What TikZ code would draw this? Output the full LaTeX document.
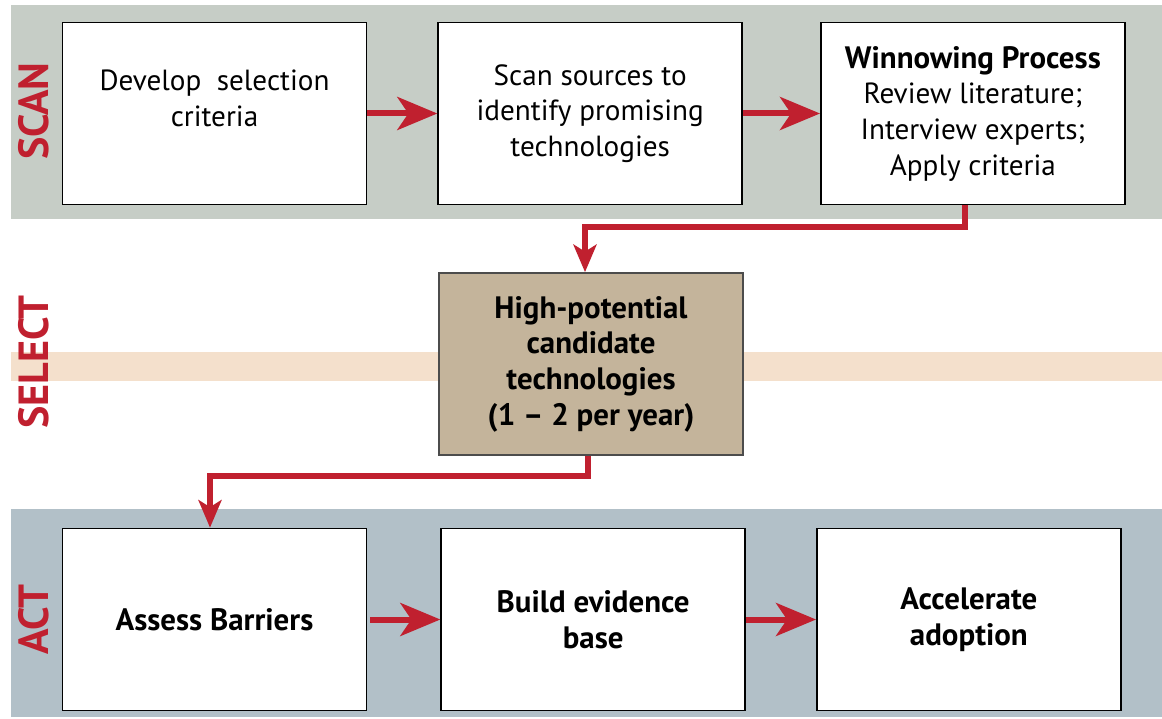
\documentclass[tikz,border=0pt]{standalone}
\usepackage{fontspec}
\setmainfont{PT Sans}
\usepackage{tikz}
\usetikzlibrary{positioning,arrows.meta}
\definecolor{scanbg}{HTML}{C6CDC6}
\definecolor{actbg}{HTML}{B2C0C8}
\definecolor{selbg}{HTML}{F4E0CC}
\definecolor{tan}{HTML}{C4B49B}
\definecolor{flowred}{HTML}{C0202F}

\begin{document}
\begin{tikzpicture}[
    x=0.02cm, y=-0.02cm,
    box/.style={rectangle, draw=black, line width=1pt, fill=white,
        minimum width=6.08cm, minimum height=3.64cm, align=center,
        font=\fontsize{16.6}{20.3}\selectfont},
    boldbox/.style={box, font=\fontsize{17.6}{20.3}\selectfont\bfseries},
    stagelbl/.style={rotate=90, text=flowred, font=\fontsize{24}{28}\selectfont\bfseries},
    flow/.style={draw=flowred, line width=0.12cm,
        -{Stealth[length=0.8cm, width=0.66cm, inset=0.22cm]}},
    elbow/.style={draw=flowred, line width=0.12cm,
        -{Stealth[length=0.55cm, width=0.46cm, inset=0.14cm]}}
]
    \useasboundingbox (0,0) rectangle (1162,719);
    \fill[white] (0,0) rectangle (1162,719);

    % stage bands
    \fill[scanbg] (11,5) rectangle (1162,219);
    \fill[selbg] (11,352) rectangle (1162,381);
    \fill[actbg] (11,509) rectangle (1162,717);

    \node[stagelbl] (scanlbl) at (34,111) {SCAN};
    \node[stagelbl] (sellbl) at (34,362) {SELECT};
    \node[stagelbl] (actlbl) at (34,620) {ACT};

    % scan row
    \node[box] (dev) at (214.5,113.5) {Develop~ selection\\criteria\\[-9pt]\strut};
    \node[box, right=1.4cm of dev] (scn) {Scan sources to\\identify promising\\technologies};
    \node[box, right=1.54cm of scn] (win) {{\bfseries\fontsize{17.6}{20.3}\selectfont Winnowing Process}\\Review literature;\\Interview experts;\\Apply criteria};

    % select
    \node[boldbox, fill=tan, draw=black!70] (hp) at (591,364) {High-potential\\candidate\\technologies\\(1 -- 2 per year)};

    % act row
    \node[boldbox] (ab) at (214.5,619.5) {Assess Barriers};
    \node[boldbox, right=1.46cm of ab] (be) {Build evidence\\base};
    \node[boldbox, right=1.4cm of be] (acc) {Accelerate\\adoption};

    \draw[flow] (dev) -- (scn);
    \draw[flow] (scn) -- (win);
    \draw[elbow] ([xshift=-0.16cm]win.south) -- ++(0,22) -| ([xshift=-0.12cm]hp.north);
    \draw[elbow] ([xshift=-0.06cm]hp.south) -- ++(0,20) -| ([xshift=-0.09cm]ab.north);
    \draw[flow] ([xshift=0.06cm]ab.east) -- (be);
    \draw[flow] (be) -- (acc);
\end{tikzpicture}
\end{document}
